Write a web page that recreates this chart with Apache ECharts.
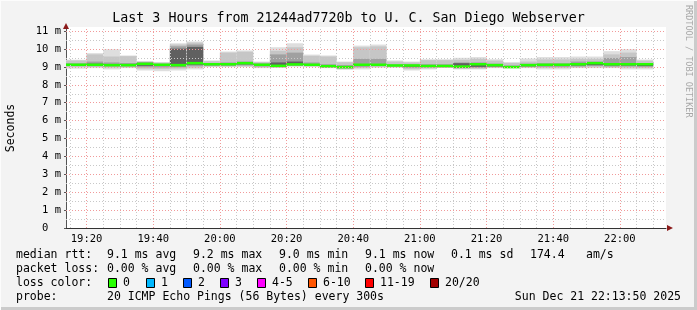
<!DOCTYPE html>
<html><head><meta charset="utf-8">
<script src="https://cdn.jsdelivr.net/npm/echarts@6/dist/echarts.min.js"></script>
<style>
html,body{margin:0;padding:0;background:#f3f3f3;}
#c{width:697px;height:310px;}
</style></head><body><div id="c"></div>
<script>
// ---------------- data ----------------
const titleText = 'Last 3 Hours from 21244ad7720b to U. C. San Diego Webserver';
const xStart = '19:13:50';
const xEnd = '22:13:50';
const stepMinutes = 5;
const stepEnds = ['19:20','19:25','19:30','19:35','19:40','19:45','19:50','19:55','20:00','20:05','20:10','20:15','20:20','20:25','20:30','20:35','20:40','20:45','20:50','20:55','21:00','21:05','21:10','21:15','21:20','21:25','21:30','21:35','21:40','21:45','21:50','21:55','22:00','22:05','22:10'];
// smoke bands (ms), outer to inner
const smokeMax = [9.40,9.77,9.99,9.64,9.32,9.27,10.32,10.42,9.36,9.86,9.92,9.30,10.10,10.32,9.69,9.64,9.30,10.19,10.25,9.36,9.30,9.43,9.43,9.51,9.55,9.43,9.27,9.47,9.55,9.55,9.58,9.58,9.88,9.99,9.41];
const smokeHi2 = [9.36,9.70,9.58,9.60,9.30,9.24,10.25,10.36,9.32,9.80,9.85,9.27,9.90,10.10,9.62,9.58,9.26,10.10,10.15,9.30,9.25,9.38,9.38,9.40,9.45,9.35,9.22,9.30,9.42,9.42,9.45,9.45,9.70,9.80,9.35];
const smokeHi3 = [9.20,9.30,9.25,9.22,9.27,9.18,10.15,10.25,9.22,9.25,9.30,9.20,9.70,9.80,9.25,9.15,9.10,9.45,9.45,9.14,9.14,9.15,9.15,9.25,9.25,9.18,9.08,9.18,9.20,9.20,9.30,9.30,9.50,9.55,9.22];
const smokeHi4 = [9.15,9.18,9.15,9.15,9.22,9.15,10.02,10.12,9.18,9.19,9.25,9.15,9.25,9.30,9.16,9.08,9.03,9.16,9.16,9.11,9.11,9.08,9.09,9.21,9.20,9.13,9.02,9.13,9.15,9.15,9.18,9.24,9.20,9.20,9.18];
const medianRtt = [9.12,9.12,9.10,9.10,9.17,9.12,9.10,9.21,9.15,9.15,9.21,9.12,9.06,9.14,9.12,9.04,8.99,9.12,9.12,9.08,9.08,9.05,9.05,9.02,9.15,9.10,8.99,9.10,9.12,9.12,9.15,9.21,9.15,9.15,9.15];
const smokeLo4 = [9.08,9.07,9.06,9.06,9.06,9.05,9.04,9.12,9.10,9.10,9.14,9.07,9.02,9.10,9.08,9.00,8.95,9.06,9.08,9.05,9.02,9.01,9.00,8.95,9.00,9.03,8.96,9.04,9.05,9.05,9.08,9.10,9.08,9.08,9.05];
const smokeLo3 = [9.04,9.03,9.02,9.02,8.98,8.97,8.98,9.04,9.06,9.06,9.08,9.02,8.99,9.07,9.05,8.97,8.92,9.00,9.04,9.02,8.95,8.97,8.98,8.93,8.95,8.99,8.95,9.00,9.00,9.00,9.02,9.05,9.02,9.02,9.00];
const smokeLo2 = [9.00,9.00,8.96,8.97,8.90,8.88,8.90,8.95,9.02,9.02,9.03,8.97,8.97,9.04,9.02,8.95,8.88,8.94,9.00,8.99,8.88,8.92,8.96,8.90,8.90,8.96,8.94,8.96,8.94,8.94,8.97,8.98,8.97,8.95,8.94];
const smokeMin = [8.90,8.93,8.86,8.93,8.80,8.76,8.80,8.86,8.99,8.99,8.99,8.93,8.95,9.02,8.99,8.93,8.84,8.86,8.95,8.95,8.80,8.86,8.95,8.86,8.86,8.93,8.93,8.93,8.86,8.86,8.93,8.93,8.93,8.86,8.86];
const xTickLabels = ['19:20','19:40','20:00','20:20','20:40','21:00','21:20','21:40','22:00'];
const yTickValues = [0,1,2,3,4,5,6,7,8,9,10,11];
const statRow1 = ['median rtt:','9.1 ms avg','9.2 ms max','9.0 ms min','9.1 ms now','0.1 ms sd','174.4','am/s'];
const statRow2 = ['packet loss:','0.00 % avg','0.00 % max','0.00 % min','0.00 % now'];
const lossLabels = ['0','1','2','3','4-5','6-10','11-19','20/20'];
const lossColors = ['#26ff00','#00b8ff','#0059ff','#7e00ff','#ff00ff','#ff5500','#ff0000','#a10000'];
const probeText = ['probe:','20 ICMP Echo Pings (56 Bytes) every 300s'];
const dateText = 'Sun Dec 21 22:13:50 2025';

// ---------------- helpers ----------------
function toMin(s){ const p = s.split(':').map(Number); return p[0]*60 + p[1] + (p[2]||0)/60; }
function fmt(m){ const h = Math.floor(m/60), mm = Math.round(m - h*60); return h + ':' + (mm<10?'0':'') + mm; }
const X_MIN = toMin(xStart), X_MAX = toMin(xEnd);
const FONT = '"DejaVu Sans Mono", monospace';

const smokeData = stepEnds.map((e,i)=>{
  const x1 = toMin(e);
  const x0 = i===0 ? X_MIN : x1 - stepMinutes;
  return [x0, x1, smokeMin[i], smokeMax[i], smokeLo2[i], smokeHi2[i], smokeLo3[i], smokeHi3[i], smokeLo4[i], smokeHi4[i], medianRtt[i]];
});
const bandColors = ['#dedede','#c6c6c6','#a0a0a0','#606060'];

// grid lines
const vMajor = xTickLabels.map(toMin);
const vMinor = [];
for (let m = Math.ceil(X_MIN/5)*5; m < X_MAX; m += 5) if (vMajor.indexOf(m) < 0) vMinor.push(m);
const hMajor = [1,2,3,4,5,6,7,8,9,10,11];
const hMinor = [0.5,1.5,2.5,3.5,4.5,5.5,6.5,7.5,8.5,9.5,10.5];

function ml(list, key, color){
  return list.map(v=>({[key]: v, lineStyle:{color: color, type:[1,2], width:1}}));
}

// ---------------- chart ----------------
const chart = echarts.init(document.getElementById('c'), null, {renderer:'canvas'});
const textEls = [];
function txt(x,y,s,opts){ textEls.push(Object.assign({type:'text', x:x, y:y, silent:true, style:Object.assign({text:s, font:'11.5px '+FONT, fill:'#000', align:'left', verticalAlign:'middle'}, (opts&&opts.style)||{})}, opts&&opts.el||{})); }

txt(348.5, 18.5, titleText, {style:{font:'13.3px '+FONT, align:'center'}});
txt(11, 128, 'Seconds', {style:{align:'center'}, el:{rotation:Math.PI/2}});
txt(688, 5, 'RRDTOOL / TOBI OETIKER', {style:{font:'8.5px '+FONT, fill:'#a8a8a8'}, el:{rotation:-Math.PI/2}});
const colX = [16,107,193,279,365,451,530,586];
statRow1.forEach((s,i)=>txt(colX[i], 255, s));
statRow2.forEach((s,i)=>txt(colX[i], 269, s));
txt(16, 283, 'loss color:');
const boxX = [108,146,183,220,257,308,365,430];
lossLabels.forEach((s,i)=>{
  textEls.push({type:'rect', silent:true, shape:{x:boxX[i]+0.5, y:278.5, width:8, height:9}, style:{fill:lossColors[i], stroke:'#000', lineWidth:1}});
  txt(boxX[i]+15, 283, s);
});
txt(16, 297, probeText[0]);
txt(107, 297, probeText[1]);
txt(681, 297, dateText, {style:{align:'right'}});
// frame shading & axis arrows
textEls.push({type:'rect', silent:true, shape:{x:694, y:0, width:3, height:310}, style:{fill:'#cbcbcb'}});
textEls.push({type:'rect', silent:true, shape:{x:0, y:307, width:697, height:3}, style:{fill:'#cbcbcb'}});
textEls.push({type:'rect', silent:true, shape:{x:0, y:0, width:697, height:1}, style:{fill:'#fcfcfc'}});
textEls.push({type:'rect', silent:true, shape:{x:0, y:0, width:1, height:310}, style:{fill:'#fcfcfc'}});
textEls.push({type:'polygon', silent:true, z:100, shape:{points:[[66,23],[63,29],[69,29]]}, style:{fill:'#8b1a1a'}});
textEls.push({type:'polygon', silent:true, z:100, shape:{points:[[673,228],[667,225],[667,231]]}, style:{fill:'#8b1a1a'}});

chart.setOption({
  animation:false,
  backgroundColor:'#f3f3f3',
  grid:{left:66, right:31, top:27, bottom:82, show:true, backgroundColor:'#ffffff', borderWidth:0},
  xAxis:{
    type:'value', min:X_MIN, max:X_MAX,
    axisLine:{show:true, lineStyle:{color:'#333', width:1}},
    axisTick:{show:false},
    splitLine:{show:false},
    axisLabel:{customValues:vMajor, formatter:v=>fmt(v), fontFamily:'DejaVu Sans Mono', fontSize:10.5, color:'#000', margin:6}
  },
  yAxis:{
    type:'value', min:0, max:11.23,
    axisLine:{show:true, lineStyle:{color:'#555', width:1}},
    axisTick:{show:true, customValues:yTickValues, length:2, lineStyle:{color:'#555'}},
    splitLine:{show:false},
    axisLabel:{customValues:yTickValues, formatter:v=> v===0 ? '0  ' : v+' m', fontFamily:'DejaVu Sans Mono', fontSize:10.5, color:'#000', margin:5}
  },
  graphic:textEls,
  series:[
    {
      type:'custom', z:2, clip:true, silent:true,
      encode:{x:[0,1], y:[2,3]},
      data:smokeData,
      renderItem:(params, api)=>{
        const x0 = api.value(0), x1 = api.value(1);
        const children = [];
        for (let b=0;b<4;b++){
          const lo = api.value(2+2*b), hi = api.value(3+2*b);
          const p0 = api.coord([x0, hi]), p1 = api.coord([x1, lo]);
          children.push({type:'rect', shape:{x:p0[0], y:p0[1], width:p1[0]-p0[0], height:p1[1]-p0[1]}, style:{fill:bandColors[b]}});
        }
        return {type:'group', children:children};
      }
    },
    {
      type:'line', data:[], z:3, silent:true,
      markLine:{silent:true, symbol:['none','none'], label:{show:false}, animation:false,
        data:[].concat(ml(vMinor,'xAxis','#c8c8c8'), ml(hMinor,'yAxis','#c8c8c8'), ml(vMajor,'xAxis','#f19a9a'), ml(hMajor,'yAxis','#f19a9a'))}
    },
    {
      type:'custom', z:4, clip:true, silent:true,
      encode:{x:[0,1], y:10},
      data:smokeData,
      renderItem:(params, api)=>{
        const x0 = api.value(0), x1 = api.value(1), m = api.value(10);
        const p0 = api.coord([x0, m]), p1 = api.coord([x1, m]);
        return {type:'rect', shape:{x:p0[0], y:p0[1]-1.25, width:p1[0]-p0[0], height:2.5}, style:{fill:lossColors[0]}};
      }
    }
  ]
});
</script></body></html>
